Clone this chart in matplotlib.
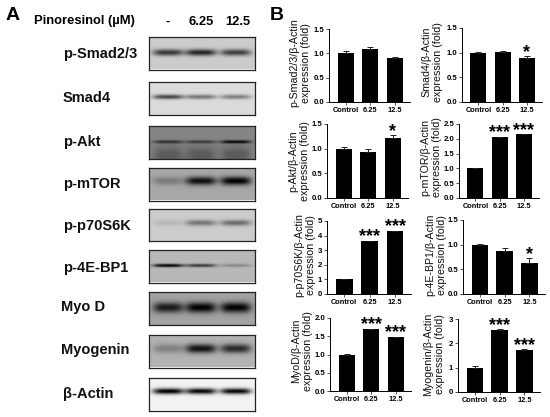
import numpy as np
import matplotlib
matplotlib.use('Agg')
import matplotlib.pyplot as plt

plt.rcParams['font.family'] = ['Liberation Sans', 'DejaVu Sans']

W = 550
H = 417

# panel A, one row per blot
blot_names = ['p-Smad2/3', 'Smad4', 'p-Akt', 'p-mTOR', 'p-p70S6K', 'p-4E-BP1', 'Myo D', 'Myogenin', 'β-Actin']
blot_top = [37, 82, 126, 168, 209, 250, 292, 335, 378]
blot_label_x = [63, 63, 63, 63, 63, 63, 61, 61, 63]
blot_label_y = [54, 98, 142, 184, 226, 268, 307, 350, 394]
blot_bg = [0.80, 0.86, 0.52, 0.66, 0.80, 0.72, 0.64, 0.70, 0.95]
band_y = [0.50, 0.45, 0.48, 0.42, 0.45, 0.50, 0.47, 0.44, 0.43]
band_h = [0.10, 0.07, 0.05, 0.13, 0.09, 0.05, 0.16, 0.14, 0.09]
band_dark = [[0.58, 0.66, 0.55],
             [0.58, 0.40, 0.36],
             [0.34, 0.30, 0.50],
             [0.18, 0.60, 0.66],
             [0.08, 0.34, 0.38],
             [0.72, 0.50, 0.18],
             [0.54, 0.64, 0.64],
             [0.20, 0.64, 0.54],
             [0.95, 0.92, 0.92]]
lower_dark = [0, 0, 0.16, 0, 0, 0, 0, 0, 0]
lane_x = [0.18, 0.49, 0.82]

# panel B
groups = ['Control', '6.25', '12.5']
ylabels = ['p-Smad2/3/β-Actin\nexpression (fold)', 'Smad4/β-Actin\nexpression (fold)',
           'p-Akt/β-Actin\nexpression (fold)', 'p-mTOR/β-Actin\nexpression (fold)',
           'p-p70S6K/β-Actin\nexpression (fold)', 'p-4E-BP1/β-Actin\nexpression (fold)',
           'MyoD/β-Actin\nexpression (fold)', 'Myogenin/β-Actin\nexpression (fold)']
values = [[1.0, 1.09, 0.91], [1.0, 1.02, 0.90], [1.0, 0.94, 1.22], [1.0, 2.05, 2.16],
          [1.0, 3.62, 4.30], [1.0, 0.88, 0.62], [1.0, 1.70, 1.47], [1.0, 2.56, 1.73]]
errors = [[0.04, 0.04, 0.015], [0.005, 0.015, 0.03], [0.03, 0.05, 0.06], [0.01, 0.02, 0.01],
          [0.03, 0.03, 0.04], [0.02, 0.05, 0.11], [0.01, 0.01, 0.02], [0.08, 0.02, 0.02]]
stars = [['', '', ''], ['', '', '*'], ['', '', '*'], ['', '***', '***'],
         ['', '***', '***'], ['', '', '*'], ['', '***', '***'], ['', '***', '***']]
ymax = [1.5, 1.5, 1.5, 2.5, 5, 1.5, 2.0, 3]
ysteps = [0.5, 0.5, 0.5, 0.5, 1, 0.5, 0.5, 1]
ytick_fmt = ['%.1f', '%.1f', '%.1f', '%.1f', '%d', '%.1f', '%.1f', '%d']
# left, right, bottom, top of each axes in pixels
boxes = [(329, 410, 102, 29), (462, 542, 102, 28), (327, 408, 198, 124), (459, 539, 198, 124),
         (327, 411, 294, 221), (463, 545, 294, 220), (330, 411, 391, 318), (458, 540, 392, 319)]
ylabel_x = [300, 432, 299, 431, 305, 436, 302, 434]
ylabel_y = [63, 62, 161, 157, 255, 255, 351, 354]


def px_text(x, y, s, **kw):
    return fig.text(x / W, 1 - y / H, s, **kw)


def px_axes(left, right, bottom, top):
    return fig.add_axes([left / W, 1 - bottom / H, (right - left) / W, (bottom - top) / H])


fig = plt.figure(figsize=(W / 100, H / 100), dpi=100)

px_text(6, 15, 'A', fontsize=14, fontweight='bold', va='center')
px_text(34, 21, 'Pinoresinol (µM)', fontsize=9.4, fontweight='bold', va='center')
px_text(168, 22, '-', fontsize=9.3, fontweight='bold', va='center', ha='center')
px_text(201, 22, '6.25', fontsize=9.3, fontweight='bold', va='center', ha='center')
px_text(238, 22, '12.5', fontsize=9.3, fontweight='bold', va='center', ha='center')
px_text(270, 15, 'B', fontsize=14, fontweight='bold', va='center')

yy, xx = np.mgrid[0:1:64j, 0:1:212j]
for i in range(len(blot_names)):
    ax = px_axes(149, 255, blot_top[i] + 32.5, blot_top[i])
    img = np.full(xx.shape, blot_bg[i])
    for j in range(3):
        lane = np.exp(-((xx - lane_x[j]) / 0.145) ** 4)
        band = np.exp(-((yy - band_y[i]) / band_h[i]) ** 2)
        img = img - band_dark[i][j] * lane * band
        img = img - lower_dark[i] * lane * np.clip((yy - band_y[i]) * 3, 0, 1)
    ax.imshow(np.clip(img, 0, 1), cmap='gray', vmin=0, vmax=1, aspect='auto', extent=(0, 1, 1, 0))
    ax.set_xticks([])
    ax.set_yticks([])
    for sp in ax.spines.values():
        sp.set_linewidth(0.9)
        sp.set_color('#222222')
    px_text(blot_label_x[i], blot_label_y[i], blot_names[i], fontsize=10.5, fontweight='bold',
            va='center', color='#111111')

for i in range(8):
    l, r, b, t = boxes[i]
    ax = px_axes(l, r, b, t)
    x = np.arange(3)
    ax.bar(x, values[i], width=0.66, color='black')
    ax.errorbar(x, values[i], yerr=[[0, 0, 0], errors[i]], fmt='none', ecolor='#222222',
                elinewidth=0.7, capsize=2.5, capthick=0.7)
    ax.set_xlim(-0.68, 2.63)
    ax.set_ylim(0, ymax[i])
    ax.set_xticks(x)
    ax.set_xticklabels(groups, fontsize=5.3, fontweight='bold')
    ticks = np.arange(0, ymax[i] + ysteps[i] / 2, ysteps[i])
    ax.set_yticks(ticks)
    ax.set_yticklabels([ytick_fmt[i] % v for v in ticks], fontsize=5.6, fontweight='bold')
    ax.tick_params(length=2, width=0.6, pad=1.5, color='#333333')
    ax.spines['top'].set_visible(False)
    ax.spines['right'].set_visible(False)
    ax.spines['left'].set_linewidth(0.7)
    ax.spines['bottom'].set_linewidth(0.7)
    for j in range(3):
        if stars[i][j]:
            ax.annotate(stars[i][j], (x[j], values[i][j] + errors[i][j]), xytext=(0, -3.5),
                        textcoords='offset points', ha='center', va='bottom',
                        fontsize=13, fontweight='bold', annotation_clip=False)
    px_text(ylabel_x[i], ylabel_y[i], ylabels[i], fontsize=7.7, rotation=90, ha='center',
            va='center', linespacing=1.22, multialignment='center', color='#111111')

fig.savefig('out.png', dpi=100)
